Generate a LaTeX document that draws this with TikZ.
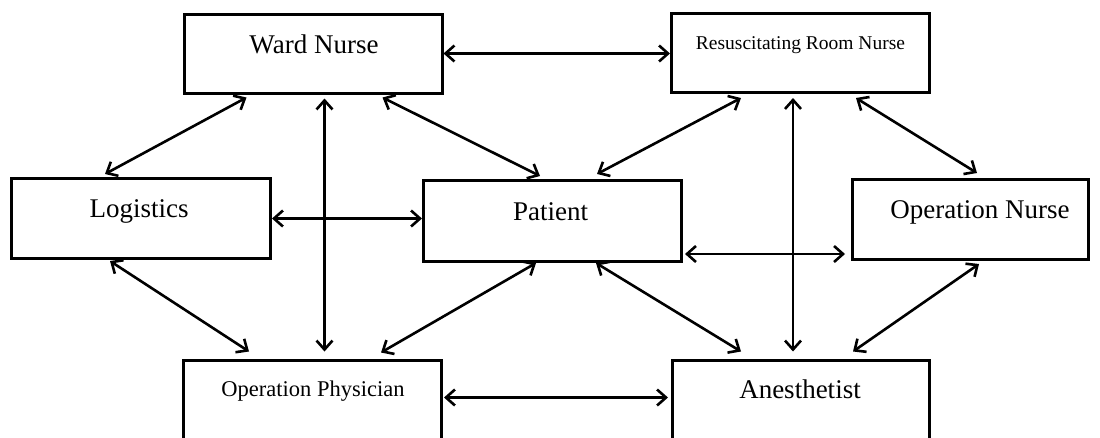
\documentclass[tikz,border=0pt]{standalone}
\usepackage{fontspec}
\setmainfont{Liberation Serif}
\usetikzlibrary{arrows.meta,calc}
\begin{document}
\begin{tikzpicture}[x=1pt,y=-1pt,
  box/.style={draw,line width=3pt,rectangle,inner sep=0pt,minimum width=258pt,minimum height=79pt},
  lbl/.style={anchor=base,inner sep=0pt,font=\fontsize{27}{30}\selectfont},
  small/.style={font=\fontsize{19.5}{22}\selectfont},
  mid/.style={font=\fontsize{22.5}{25}\selectfont},
  link/.style={line width=2.6pt,
    {Straight Barb[length=9pt,width=16pt,line width=2.6pt]}-{Straight Barb[length=9pt,width=16pt,line width=2.6pt]}}]
\useasboundingbox (0,0) rectangle (1100,437);
\clip (0,0) rectangle (1100,437);

% boxes
\node[box] (wn) at (313,53.5) {};
\node[box,minimum width=258pt,minimum height=79pt] (rn) at (800.5,53) {};
\node[box,minimum width=259pt,minimum height=80pt] (lg) at (141,218.5) {};
\node[box,minimum width=258pt,minimum height=81pt] (pt) at (552.5,221) {};
\node[box,minimum width=236pt,minimum height=80pt] (on) at (970.5,219.5) {};
\node[box,minimum width=258pt,minimum height=82pt] (op) at (312.5,401) {};
\node[box,minimum width=257pt,minimum height=82pt] (an) at (801,401) {};

% labels
\node[lbl] (wnt) at ($(wn.north)+(1,41)$) {Ward Nurse};
\node[lbl,small] (rnt) at ($(rn.north)+(0,37)$) {Resuscitating Room Nurse};
\node[lbl] (lgt) at ($(lg.north)+(-2,40)$) {Logistics};
\node[lbl] (ptt) at ($(pt.north)+(-2,41)$) {Patient};
\node[lbl] (ont) at ($(on.north)+(9.5,40)$) {Operation Nurse};
\node[lbl,mid] (opt) at ($(op.north)+(0.5,38)$) {Operation Physician};
\node[lbl] (ant) at ($(an.north)+(-1,40)$) {Anesthetist};

% ends of the two vertical links
\coordinate (wnv) at ($(wn.south west)+(142,4)$);
\coordinate (rnv) at ($(rn.south west)+(123,4)$);

% connectors
\draw[link] (wn.east) -- (wn.east -| rn.west);
\draw[link] ($(wn.south west)+(64,3)$) -- ($(lg.north west)+(95,-3)$);
\draw[link] (wnv) -- ($(wnv |- op.north)+(0,-7)$);
\draw[link] ($(wn.south west)+(200,3)$) -- ($(pt.north west)+(118,-3)$);
\draw[link] ($(rn.south west)+(71,4)$) -- ($(pt.north west)+(175,-5)$);
\draw[link] (rnv) -- ($(rnv |- an.north)+(0,-7)$);
\draw[link] ($(rn.south west)+(186,4)$) -- ($(on.north west)+(126,-5)$);
\draw[link] (lg.east) -- (lg.east -| pt.west);
\draw[link] ($(pt.south east)+(2,-9)$) -- ($(on.south west)+(-6,-7)$);
\draw[link] ($(lg.south west)+(100,1)$) -- ($(op.north west)+(67,-7)$);
\draw[link] ($(pt.south west)+(114,0)$) -- ($(op.north west)+(199,-6)$);
\draw[link] ($(pt.south west)+(174,0)$) -- ($(an.north west)+(70,-7)$);
\draw[link] ($(on.south west)+(128,3)$) -- ($(an.north west)+(182,-7)$);
\draw[link] ($(op.north east)+(1,39)$) -- ($(an.north west)+(-3,39)$);
\end{tikzpicture}
\end{document}
